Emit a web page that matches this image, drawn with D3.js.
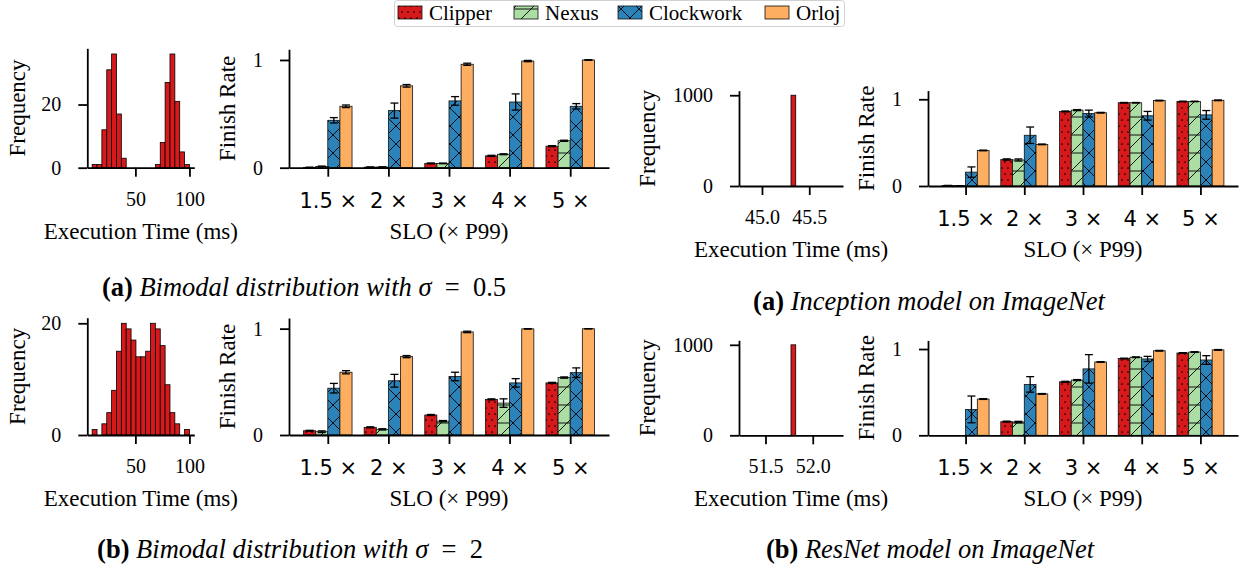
<!DOCTYPE html>
<html>
<head>
<meta charset="utf-8">
<script src="https://cdn.jsdelivr.net/npm/d3@7"></script>
<style>
  body { margin: 0; background: #fff; }
  svg { display: block; }
</style>
</head>
<body>
<svg id="fig" width="1241" height="573"></svg>
<script>
// ---------- data ----------
const systems = ["Clipper", "Nexus", "Clockwork", "Orloj"];
const sloLabels = ["1.5 \u00d7", "2 \u00d7", "3 \u00d7", "4 \u00d7", "5 \u00d7"];

// Execution-time histograms (20 equal bins between the edges)
const sigma05Edges = [10, 100];
const sigma05Counts = [1, 1, 12, 31, 36, 17, 3, 0, 0, 0, 0, 0, 0, 1, 8, 27, 36, 21, 5, 1];
const sigma2Edges = [10, 100];
const sigma2Counts = [1, 0, 2, 4, 8, 15, 20, 19, 17, 14, 14, 15, 20, 19, 16, 9, 4, 2, 0, 1];
const inceptionBin = [45.307, 45.357];
const inceptionCount = [1000];
const resnetBin = [51.77, 51.82];
const resnetCount = [1000];

// Finish rates per SLO, with error half-widths
const s05Clipper   = [0.003, 0.005, 0.04, 0.11, 0.20];
const s05Nexus     = [0.012, 0.006, 0.04, 0.125, 0.25];
const s05Clockwork = [0.44, 0.53, 0.62, 0.61, 0.57];
const s05Orloj     = [0.57, 0.76, 0.96, 0.99, 1.0];
const s05ClipperErr   = [0.002, 0.002, 0.004, 0.005, 0.005];
const s05NexusErr     = [0.003, 0.002, 0.003, 0.004, 0.005];
const s05ClockworkErr = [0.025, 0.07, 0.04, 0.075, 0.025];
const s05OrlojErr     = [0.012, 0.012, 0.01, 0.006, 0.002];

const s2Clipper   = [0.04, 0.072, 0.188, 0.335, 0.49];
const s2Nexus     = [0.031, 0.053, 0.13, 0.30, 0.54];
const s2Clockwork = [0.44, 0.51, 0.55, 0.49, 0.586];
const s2Orloj     = [0.59, 0.737, 0.969, 0.998, 0.999];
const s2ClipperErr   = [0.004, 0.005, 0.005, 0.005, 0.005];
const s2NexusErr     = [0.008, 0.006, 0.006, 0.04, 0.006];
const s2ClockworkErr = [0.045, 0.06, 0.04, 0.04, 0.045];
const s2OrlojErr     = [0.015, 0.01, 0.007, 0.002, 0.001];

const incClipper   = [0.005, 0.305, 0.86, 0.96, 0.975];
const incNexus     = [0.003, 0.30, 0.875, 0.96, 0.975];
const incClockwork = [0.16, 0.585, 0.835, 0.81, 0.82];
const incOrloj     = [0.41, 0.48, 0.845, 0.985, 0.988];
const incClipperErr   = [0.002, 0.008, 0.005, 0.003, 0.003];
const incNexusErr     = [0.001, 0.012, 0.006, 0.003, 0.003];
const incClockworkErr = [0.06, 0.095, 0.04, 0.05, 0.05];
const incOrlojErr     = [0.004, 0.004, 0.004, 0.004, 0.004];

const resClipper   = [0.0, 0.158, 0.62, 0.89, 0.954];
const resNexus     = [0.0, 0.154, 0.64, 0.905, 0.965];
const resClockwork = [0.30, 0.59, 0.77, 0.885, 0.873];
const resOrloj     = [0.42, 0.48, 0.85, 0.98, 0.99];
const resClipperErr   = [0.0, 0.006, 0.006, 0.004, 0.004];
const resNexusErr     = [0.0, 0.008, 0.006, 0.004, 0.004];
const resClockworkErr = [0.155, 0.09, 0.165, 0.03, 0.05];
const resOrlojErr     = [0.004, 0.004, 0.004, 0.004, 0.004];

// ---------- style ----------
const colors = { Clipper: "#d7191c", Nexus: "#abdda4", Clockwork: "#2b83ba", Orloj: "#fdae61" };
const SERIF = "'Liberation Serif', 'Times New Roman', serif";
const SANS = "'DejaVu Sans', sans-serif";

const svg = d3.select("#fig");
const defs = svg.append("defs");

// hatch patterns (anchored to the page, like matplotlib hatching)
function pattern(id, bg, size, draw) {
  const p = defs.append("pattern").attr("id", id)
    .attr("patternUnits", "userSpaceOnUse")
    .attr("width", size[0]).attr("height", size[1]);
  p.append("rect").attr("width", size[0]).attr("height", size[1]).attr("fill", bg);
  draw(p);
}
pattern("hatch-Clipper", colors.Clipper, [6, 12], p => {
  [[0, 0], [6, 0], [0, 12], [6, 12], [3, 6]].forEach(([cx, cy]) =>
    p.append("circle").attr("cx", cx).attr("cy", cy).attr("r", 0.85).attr("fill", "#000"));
});
pattern("hatch-Nexus", colors.Nexus, [18, 18], p => {
  p.append("line").attr("x1", -1).attr("x2", 19).attr("y1", 9).attr("y2", 9);
  p.append("line").attr("x1", -1).attr("y1", 19).attr("x2", 19).attr("y2", -1);
  p.selectAll("line").attr("stroke", "#000").attr("stroke-width", 0.9);
});
pattern("hatch-Clockwork", colors.Clockwork, [18, 18], p => {
  p.append("line").attr("x1", -1).attr("y1", -1).attr("x2", 19).attr("y2", 19);
  p.append("line").attr("x1", -1).attr("y1", 19).attr("x2", 19).attr("y2", -1);
  p.selectAll("line").attr("stroke", "#000").attr("stroke-width", 0.9);
});
const fillOf = s => s === "Orloj" ? colors.Orloj : `url(#hatch-${s})`;

// ---------- helpers ----------
function styleAxis(g, font, size) {
  g.select(".domain").attr("stroke", "#000").attr("stroke-width", 1.8);
  g.selectAll(".tick line").attr("stroke", "#000").attr("stroke-width", 1.8);
  g.selectAll(".tick text").attr("fill", "#000").attr("font-family", font).attr("font-size", size);
}

function yLabel(text, x, yc) {
  svg.append("text").attr("transform", `translate(${x},${yc}) rotate(-90)`)
    .attr("text-anchor", "middle").attr("font-family", SERIF).attr("font-size", 23)
    .attr("fill", "#000").text(text);
}
function xLabel(text, xc, y) {
  svg.append("text").attr("x", xc).attr("y", y)
    .attr("text-anchor", "middle").attr("font-family", SERIF).attr("font-size", 23)
    .attr("fill", "#000").text(text);
}

function drawHist(p) {
  const x = d3.scaleLinear().domain(p.xDomain).range([p.left, p.right]);
  const y = d3.scaleLinear().domain(p.yDomain).range([p.bottom, p.top]);
  const n = p.counts.length;
  const w = (p.edges[1] - p.edges[0]) / n;
  const bins = p.counts.map((c, i) => ({ lo: p.edges[0] + i * w, hi: p.edges[0] + (i + 1) * w, c }))
    .filter(b => b.c > 0);
  svg.append("g").selectAll("rect").data(bins).join("rect")
    .attr("x", b => x(b.lo)).attr("width", b => x(b.hi) - x(b.lo))
    .attr("y", b => y(b.c)).attr("height", b => y(0) - y(b.c))
    .attr("fill", colors.Clipper).attr("stroke", "#000").attr("stroke-width", 0.8);

  const gx = svg.append("g").attr("transform", `translate(0,${p.bottom})`)
    .call(d3.axisBottom(x).tickValues(p.xTicks).tickFormat(p.xFormat)
      .tickSize(9).tickSizeOuter(0).tickPadding(15));
  styleAxis(gx, SERIF, 20);
  const gy = svg.append("g").attr("transform", `translate(${p.left},0)`)
    .call(d3.axisLeft(y).tickValues(p.yTicks).tickFormat(d3.format("d"))
      .tickSize(9).tickSizeOuter(0).tickPadding(17));
  styleAxis(gy, SERIF, 20);

  yLabel("Frequency", p.yLabelX, (p.top + p.bottom) / 2);
  xLabel("Execution Time (ms)", (p.left + p.right) / 2, p.bottom + 71);
}

function drawBars(p) {
  const x = d3.scaleLinear().domain([-0.64, 4.64]).range([p.left, p.right]);
  const y = d3.scaleLinear().domain([0, 1.1]).range([p.bottom, p.top]);
  const barW = 0.2;
  const offsets = [-0.3, -0.1, 0.1, 0.3];
  const recs = [];
  systems.forEach((s, si) => {
    p.values[si].forEach((v, i) => recs.push({ s, i, v, e: p.errors[si][i], cx: i + offsets[si] }));
  });
  const g = svg.append("g");
  g.selectAll("rect").data(recs).join("rect")
    .attr("x", d => x(d.cx - barW / 2)).attr("width", d => x(d.cx + barW / 2) - x(d.cx - barW / 2))
    .attr("y", d => y(d.v)).attr("height", d => y(0) - y(d.v))
    .attr("fill", d => fillOf(d.s)).attr("stroke", "#111").attr("stroke-width", 0.8);

  const eb = g.selectAll("g.err").data(recs.filter(d => d.e > 0)).join("g").attr("class", "err")
    .attr("stroke", "#000").attr("stroke-width", 1.3);
  eb.append("line").attr("x1", d => x(d.cx)).attr("x2", d => x(d.cx))
    .attr("y1", d => y(d.v - d.e)).attr("y2", d => y(d.v + d.e));
  [-1, 1].forEach(sg => {
    eb.append("line").attr("x1", d => x(d.cx) - 4).attr("x2", d => x(d.cx) + 4)
      .attr("y1", d => y(d.v + sg * d.e)).attr("y2", d => y(d.v + sg * d.e));
  });

  const gx = svg.append("g").attr("transform", `translate(0,${p.bottom})`)
    .call(d3.axisBottom(x).tickValues(d3.range(sloLabels.length)).tickFormat(i => sloLabels[i])
      .tickSize(9).tickSizeOuter(0).tickPadding(16));
  styleAxis(gx, SANS, 21);
  const gy = svg.append("g").attr("transform", `translate(${p.left},0)`)
    .call(d3.axisLeft(y).tickValues([0, 1]).tickFormat(d3.format("d"))
      .tickSize(9).tickSizeOuter(0).tickPadding(17));
  styleAxis(gy, SERIF, 20);

  yLabel("Finish Rate", p.left - 54, (p.top + p.bottom) / 2);
  xLabel("SLO (\u00d7 P99)", (p.left + p.right) / 2, p.bottom + 71);
}

// ---------- panels ----------
drawHist({ left: 87.3, right: 194.3, top: 48.3, bottom: 167.7,
  xDomain: [5.5, 104.5], yDomain: [0, 37.8], xTicks: [50, 100], xFormat: d3.format("d"),
  yTicks: [0, 20], edges: sigma05Edges, counts: sigma05Counts, yLabelX: 25 });
drawBars({ left: 289, right: 609, top: 49.2, bottom: 167.7,
  values: [s05Clipper, s05Nexus, s05Clockwork, s05Orloj],
  errors: [s05ClipperErr, s05NexusErr, s05ClockworkErr, s05OrlojErr] });

drawHist({ left: 87.3, right: 194.3, top: 317.7, bottom: 435,
  xDomain: [5.5, 104.5], yDomain: [0, 21], xTicks: [50, 100], xFormat: d3.format("d"),
  yTicks: [0, 20], edges: sigma2Edges, counts: sigma2Counts, yLabelX: 25 });
drawBars({ left: 289, right: 609, top: 318, bottom: 435,
  values: [s2Clipper, s2Nexus, s2Clockwork, s2Orloj],
  errors: [s2ClipperErr, s2NexusErr, s2ClockworkErr, s2OrlojErr] });

drawHist({ left: 739, right: 843, top: 90.7, bottom: 186,
  xDomain: [inceptionBin[0] - 0.55, inceptionBin[0] + 0.55], yDomain: [0, 1050],
  xTicks: [45.0, 45.5], xFormat: d3.format(".1f"),
  yTicks: [0, 1000], edges: inceptionBin, counts: inceptionCount, yLabelX: 655 });
drawBars({ left: 928, right: 1238, top: 90.6, bottom: 186,
  values: [incClipper, incNexus, incClockwork, incOrloj],
  errors: [incClipperErr, incNexusErr, incClockworkErr, incOrlojErr] });

drawHist({ left: 739, right: 843, top: 340.3, bottom: 435.3,
  xDomain: [resnetBin[0] - 0.55, resnetBin[0] + 0.55], yDomain: [0, 1050],
  xTicks: [51.5, 52.0], xFormat: d3.format(".1f"),
  yTicks: [0, 1000], edges: resnetBin, counts: resnetCount, yLabelX: 655 });
drawBars({ left: 928, right: 1238, top: 340.4, bottom: 435.3,
  values: [resClipper, resNexus, resClockwork, resOrloj],
  errors: [resClipperErr, resNexusErr, resClockworkErr, resOrlojErr] });

// ---------- legend ----------
const legend = svg.append("g");
legend.append("rect").attr("x", 394.5).attr("y", 0.5).attr("width", 450).attr("height", 26)
  .attr("rx", 3).attr("fill", "#fff").attr("stroke", "#d0d0d0").attr("stroke-width", 1);
const legendX = [398, 514, 618, 765];
systems.forEach((s, i) => {
  legend.append("rect").attr("x", legendX[i]).attr("y", 6).attr("width", 24).attr("height", 13)
    .attr("fill", fillOf(s)).attr("stroke", "#111").attr("stroke-width", 0.8);
  legend.append("text").attr("x", legendX[i] + 31).attr("y", 20)
    .attr("font-family", SERIF).attr("font-size", 21).attr("fill", "#000").text(s);
});

// ---------- captions ----------
function caption(tag, body, math, xc, y) {
  const t = svg.append("text").attr("x", xc).attr("y", y).attr("text-anchor", "middle")
    .attr("font-family", SERIF).attr("font-size", 26.5).attr("fill", "#000")
    .attr("xml:space", "preserve").style("white-space", "pre");
  t.append("tspan").attr("font-weight", "bold").text(tag + " ");
  t.append("tspan").attr("font-style", "italic").text(body);
  if (math) {
    t.append("tspan").attr("font-style", "italic").text(" \u03c3");
    t.append("tspan").text("\u2002=\u2002" + math);
  }
}
caption("(a)", "Bimodal distribution with", "0.5", 304, 296);
caption("(a)", "Inception model on ImageNet", null, 929, 310);
caption("(b)", "Bimodal distribution with", "2", 290, 558);
caption("(b)", "ResNet model on ImageNet", null, 930, 558);
</script>
</body>
</html>
